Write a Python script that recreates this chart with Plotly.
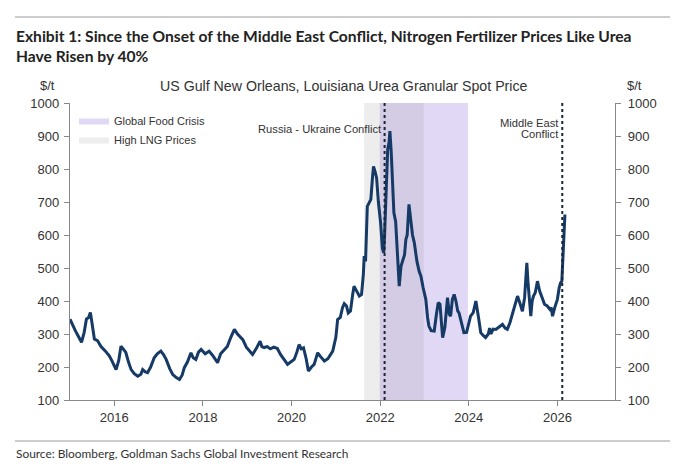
import plotly.graph_objects as go

# urea granular spot price, US Gulf NOLA ($/t)
years = [
    2015.00, 2015.06, 2015.12, 2015.20, 2015.26, 2015.32, 2015.37, 2015.42, 2015.46, 2015.50,
    2015.55, 2015.62, 2015.70, 2015.80, 2015.89, 2015.95, 2016.04, 2016.10, 2016.15, 2016.20,
    2016.26, 2016.32, 2016.38, 2016.45, 2016.53, 2016.60, 2016.64, 2016.70, 2016.75, 2016.82,
    2016.90, 2016.97, 2017.05, 2017.11, 2017.17, 2017.25, 2017.32, 2017.40, 2017.47, 2017.53,
    2017.58, 2017.65, 2017.73, 2017.78, 2017.84, 2017.90, 2017.96, 2018.05, 2018.14, 2018.22,
    2018.33, 2018.40, 2018.48, 2018.55, 2018.63, 2018.71, 2018.78, 2018.85, 2018.90, 2018.98,
    2019.05, 2019.12, 2019.20, 2019.29, 2019.33, 2019.38, 2019.45, 2019.52, 2019.60, 2019.68,
    2019.75, 2019.82, 2019.91, 2019.98, 2020.06, 2020.12, 2020.17, 2020.22, 2020.27, 2020.33,
    2020.38, 2020.45, 2020.51, 2020.56, 2020.59, 2020.65, 2020.74, 2020.82, 2020.88, 2020.93,
    2021.00, 2021.04, 2021.10, 2021.15, 2021.19, 2021.24, 2021.28, 2021.33, 2021.38, 2021.41,
    2021.47, 2021.53, 2021.58, 2021.62, 2021.64, 2021.67, 2021.71, 2021.76, 2021.79, 2021.83,
    2021.85, 2021.89, 2021.92, 2021.96, 2022.01, 2022.05, 2022.08, 2022.10, 2022.13, 2022.17,
    2022.20, 2022.22, 2022.25, 2022.28, 2022.31, 2022.35, 2022.40, 2022.43, 2022.47, 2022.50,
    2022.55, 2022.58, 2022.61, 2022.65, 2022.69, 2022.73, 2022.77, 2022.83, 2022.88, 2022.92,
    2022.97, 2023.03, 2023.07, 2023.10, 2023.15, 2023.22, 2023.27, 2023.31, 2023.35, 2023.38,
    2023.41, 2023.46, 2023.50, 2023.52, 2023.56, 2023.59, 2023.63, 2023.67, 2023.71, 2023.75,
    2023.78, 2023.84, 2023.89, 2023.95, 2024.00, 2024.04, 2024.10, 2024.16, 2024.22, 2024.27,
    2024.33, 2024.38, 2024.44, 2024.47, 2024.50, 2024.55, 2024.61, 2024.68, 2024.76, 2024.82,
    2024.87, 2024.93, 2024.99, 2025.05, 2025.10, 2025.15, 2025.21, 2025.26, 2025.31, 2025.34,
    2025.38, 2025.40, 2025.43, 2025.46, 2025.50, 2025.55, 2025.60, 2025.66, 2025.71, 2025.77,
    2025.83, 2025.86, 2025.89, 2025.94, 2026.00, 2026.04, 2026.07, 2026.10, 2026.13, 2026.15,
    2026.17,
]
price = [
    345, 325, 310, 290, 275, 305, 345, 350, 365, 330,
    285, 280, 262, 248, 233, 218, 192, 220, 263, 255,
    244, 215, 192, 180, 172, 178, 192, 185, 183, 200,
    228, 240, 248, 238, 223, 195, 177, 168, 162, 175,
    198, 215, 243, 228, 223, 245, 253, 240, 248, 235,
    213, 240, 253, 262, 290, 314, 300, 290, 283, 260,
    250, 238, 255, 278, 262, 259, 262, 255, 260, 256,
    238, 225, 208, 215, 223, 245, 268, 255, 258, 225,
    188, 200, 208, 230, 243, 232, 218, 225, 240, 248,
    290, 344, 350, 380, 392, 385, 364, 370, 420, 445,
    430, 415, 420, 480, 536, 520, 687, 700, 708, 780,
    808, 790, 773, 700, 637, 560, 546, 600, 708, 860,
    880, 915, 850, 760, 667, 640, 530, 445, 505, 516,
    540, 586, 600, 693, 650, 600, 577, 520, 490, 475,
    440, 405, 350, 324, 310, 309, 360, 395, 390, 330,
    289, 320, 400, 410, 360, 354, 405, 420, 400, 370,
    364, 330, 304, 305, 330, 354, 365, 400, 350, 304,
    295, 289, 300, 318, 300, 315, 314, 320, 329, 318,
    314, 335, 364, 390, 415, 395, 369, 410, 516, 450,
    380, 354, 400, 415, 425, 460, 430, 405, 390, 385,
    375, 380, 354, 380, 405, 440, 455, 460, 546, 610,
    662,
]

# shaded periods (decimal years)
period_names = ["Global Food Crisis", "High LNG Prices"]
period_start = [2021.99, 2021.64]
period_end = [2023.98, 2022.98]
period_colors = ["rgba(140,110,215,0.27)", "rgba(150,150,150,0.17)"]

# event markers, one label line per entry
event_years = [2022.10, 2026.11]
event_labels = [["Russia - Ukraine Conflict"], ["Middle East", "Conflict"]]
event_label_y = [[129], [123, 134]]  # px

y_ticks = [100, 200, 300, 400, 500, 600, 700, 800, 900, 1000]
x_ticks = [2016, 2018, 2020, 2022, 2024, 2026]

# plot area in pixels, used to place the page furniture
L, R, T, B = 70, 615, 103, 400


def px_x(p):
    return (p - L) / (R - L)


def px_y(p):
    return (B - p) / (B - T)


fig = go.Figure()

for name, x0, x1, col in zip(period_names, period_start, period_end, period_colors):
    fig.add_trace(go.Scatter(
        x=[x0, x0, x1, x1, x0], y=[100, 1000, 1000, 100, 100],
        mode="lines", fill="toself", fillcolor=col,
        line=dict(width=0, color=col), name=name, hoverinfo="skip",
    ))

fig.add_trace(go.Scatter(
    x=years, y=price, mode="lines", line=dict(color="#163a66", width=3),
    showlegend=False, name="Urea",
))
# invisible trace so the right axis gets drawn
fig.add_trace(go.Scatter(
    x=[years[0]], y=[price[0]], yaxis="y2", mode="markers",
    marker=dict(opacity=0), showlegend=False, hoverinfo="skip",
))

for ex, lines, ys in zip(event_years, event_labels, event_label_y):
    fig.add_shape(type="line", x0=ex, x1=ex, y0=0, y1=1, xref="x", yref="paper",
                  line=dict(color="#1b2535", width=2, dash="dot"), layer="above")
    for txt, ly in zip(lines, ys):
        fig.add_annotation(x=ex, y=px_y(ly), xref="x", yref="paper",
                           text=txt, showarrow=False, xanchor="right", yanchor="middle",
                           xshift=-1,
                           font=dict(family="Liberation Sans, Arial", size=11.2, color="#333"))

axis_font = dict(family="Liberation Sans, Arial", size=13, color="#333")
fig.update_layout(
    width=677, height=472,
    margin=dict(l=L, r=677 - R, t=T, b=472 - B),
    plot_bgcolor="white", paper_bgcolor="white",
    xaxis=dict(range=[2015.0, 2027.3], tickvals=x_ticks, ticks="outside", ticklen=5,
               tickcolor="#888", showline=True, linecolor="#888", linewidth=1.3,
               showgrid=False, zeroline=False, tickfont=axis_font),
    yaxis=dict(range=[100, 1000], tickvals=y_ticks, ticks="outside", ticklen=5,
               tickcolor="#888", showline=True, linecolor="#888", linewidth=1.3,
               showgrid=False, zeroline=False, tickfont=axis_font, ticklabelstandoff=2),
    yaxis2=dict(range=[100, 1000], tickvals=y_ticks, overlaying="y", side="right",
                ticks="outside", ticklen=5, tickcolor="#888", showline=True,
                linecolor="#888", linewidth=1.3, showgrid=False, zeroline=False,
                tickfont=axis_font, ticklabelstandoff=4),
    legend=dict(x=px_x(74), y=px_y(106), xanchor="left", yanchor="top",
                bgcolor="rgba(0,0,0,0)", tracegroupgap=0, itemwidth=30,
                font=dict(family="Liberation Sans, Arial", size=11, color="#333")),
    showlegend=True,
)

# title, subtitle, units, source and rules
fig.add_annotation(x=px_x(14), y=px_y(25), xref="paper", yref="paper",
                   text="<b>Exhibit 1: Since the Onset of the Middle East Conflict, Nitrogen Fertilizer Prices Like Urea<br>Have Risen by 40%</b>",
                   showarrow=False, xanchor="left", yanchor="top", align="left",
                   font=dict(family="Lato", size=15.6, color="#222"))
fig.add_annotation(x=px_x(344), y=px_y(86), xref="paper", yref="paper",
                   text="US Gulf New Orleans, Louisiana Urea Granular Spot Price",
                   showarrow=False, xanchor="center", yanchor="middle",
                   font=dict(family="Liberation Sans, Arial", size=14.2, color="#333"))
for ux in [47, 634]:
    fig.add_annotation(x=px_x(ux), y=px_y(86), xref="paper", yref="paper", text="$/t",
                       showarrow=False, xanchor="center", yanchor="middle", font=axis_font)
fig.add_annotation(x=px_x(14), y=px_y(453), xref="paper", yref="paper",
                   text="Source: Bloomberg, Goldman Sachs Global Investment Research",
                   showarrow=False, xanchor="left", yanchor="middle",
                   font=dict(family="Lato", size=11.9, color="#333"))
for ry in [17, 441]:
    fig.add_shape(type="line", x0=px_x(15), x1=px_x(670), y0=px_y(ry), y1=px_y(ry),
                  xref="paper", yref="paper", line=dict(color="#999", width=1.2))

# page body has a default margin; drop it so the figure sits at the window origin
fig.write_html("out.html", config={"displayModeBar": False},
               post_script="document.body.style.margin='0';")
